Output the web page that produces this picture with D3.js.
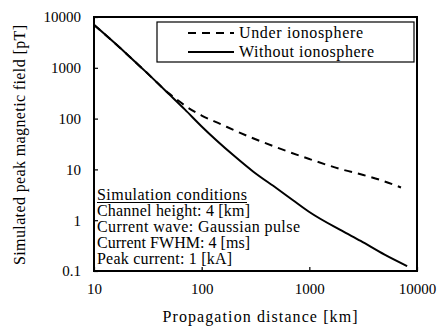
<!DOCTYPE html>
<html><head><meta charset="utf-8">
<script src="https://cdn.jsdelivr.net/npm/d3@7"></script>
<style>body{margin:0;background:#fff}svg{display:block}text{font-family:"Liberation Serif","Times New Roman",serif;fill:#000}</style>
</head><body><svg id="c" width="443" height="329"></svg>
<script>
const xTicks = [10, 100, 1000, 10000];
const yTicks = [0.1, 1, 10, 100, 1000, 10000];
const yTickLabels = ["0.1", "1", "10", "100", "1000", "10000"];
const seriesNames = ["Under ionosphere", "Without ionosphere"];
const distUnder = [10, 20, 30, 50, 60, 70, 100, 150, 225, 300, 500, 1000, 2000, 3000, 4450, 7100];
const valUnder  = [7000, 1900, 850, 310, 230, 180, 115, 78, 53, 41, 27, 16, 10, 8, 6.3, 4.4];
const distWithout = [10, 20, 30, 50, 70, 100, 200, 300, 500, 700, 1000, 2000, 3000, 5000, 8100];
const valWithout  = [7000, 1900, 850, 300, 150, 70, 18.5, 9.1, 4.2, 2.5, 1.45, 0.62, 0.39, 0.21, 0.125];
const conditions = ["Simulation conditions", "Channel height: 4 [km]", "Current wave: Gaussian pulse", "Current FWHM: 4 [ms]", "Peak current: 1 [kA]"];

const svg = d3.select("#c");
const L = 94, R = 417, T = 17, B = 271;
const x = d3.scaleLog().domain([10, 10000]).range([L, R]);
const y = d3.scaleLog().domain([0.1, 10000]).range([B, T]);

// axes (inner ticks)
const xa = svg.append("g").attr("transform", `translate(0,${B})`)
  .call(d3.axisBottom(x).tickValues(xTicks).tickSize(-4).tickPadding(20).tickFormat(d3.format("d")));
const ya = svg.append("g").attr("transform", `translate(${L},0)`)
  .call(d3.axisLeft(y).tickValues(yTicks).tickSize(-4).tickPadding(13).tickFormat((d,i)=>yTickLabels[i]));
[xa, ya].forEach(g => {
  g.select(".domain").remove();
  g.selectAll("line").attr("stroke", "#000").attr("stroke-width", 1.2);
  g.selectAll("text").attr("font-size", 15).attr("font-family", "Liberation Serif").attr("fill", "#000");
});
xa.selectAll("text").attr("dy", "0.2em");

svg.append("rect").attr("x", L).attr("y", T).attr("width", R - L).attr("height", B - T)
  .attr("fill", "none").attr("stroke", "#000").attr("stroke-width", 2);

const line = d3.line().x(d => x(d[0])).y(d => y(d[1])).curve(d3.curveMonotoneX);
svg.append("path").datum(distWithout.map((d, i) => [d, valWithout[i]])).attr("d", line)
  .attr("fill", "none").attr("stroke", "#000").attr("stroke-width", 2);
svg.append("path").datum(distUnder.map((d, i) => [d, valUnder[i]])).attr("d", line)
  .attr("fill", "none").attr("stroke", "#000").attr("stroke-width", 2).attr("stroke-dasharray", "8,6");

// legend
svg.append("rect").attr("x", 157).attr("y", 22).attr("width", 257).attr("height", 40)
  .attr("fill", "#fff").attr("stroke", "#000").attr("stroke-width", 1.2);
const lg = [{dash: "8,6", yy: 33}, {dash: null, yy: 52}];
lg.forEach((l, i) => {
  svg.append("line").attr("x1", 188).attr("x2", 234).attr("y1", l.yy).attr("y2", l.yy)
    .attr("stroke", "#000").attr("stroke-width", 2.2).attr("stroke-dasharray", l.dash);
  svg.append("text").attr("x", 239).attr("y", l.yy + 5).attr("font-size", 16)
    .attr("textLength", i === 0 ? 124 : 135).attr("lengthAdjust", "spacing").text(seriesNames[i]);
});

// conditions
const cy = [200, 216, 232, 248, 264];
const cw = [150, 153, 203, 153, 135];
conditions.forEach((t, i) => {
  svg.append("text").attr("x", 97).attr("y", cy[i]).attr("font-size", 16)
    .attr("textLength", cw[i]).attr("lengthAdjust", "spacing").text(t);
});
svg.append("line").attr("x1", 97).attr("x2", 247).attr("y1", 202.5).attr("y2", 202.5)
  .attr("stroke", "#000").attr("stroke-width", 1.2);

// titles
svg.append("text").attr("x", 260).attr("y", 322).attr("text-anchor", "middle").attr("font-size", 16)
  .attr("textLength", 195).attr("lengthAdjust", "spacing").text("Propagation distance [km]");
svg.append("text").attr("transform", "translate(25,145) rotate(-90)").attr("text-anchor", "middle")
  .attr("font-size", 16).attr("textLength", 240).attr("lengthAdjust", "spacing")
  .text("Simulated peak magnetic field [pT]");
</script></body></html>
